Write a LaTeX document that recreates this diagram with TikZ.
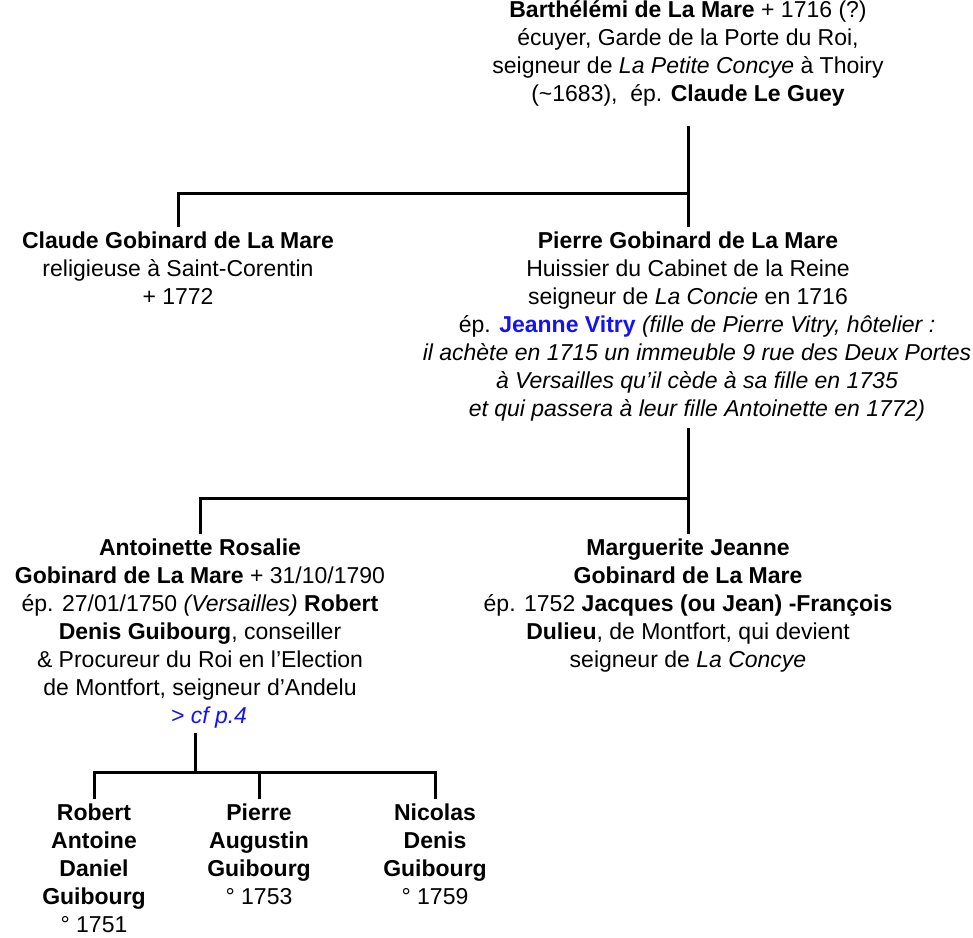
\documentclass[tikz,border=0pt]{standalone}
\usepackage{fontspec}
\setmainfont{Liberation Sans}
\definecolor{linkblue}{RGB}{20,20,240}
\newcommand\myst{\rule{0pt}{21pt}}
\tikzset{
  person/.style={anchor=north, inner sep=0pt, outer sep=0pt, align=center,
                 font=\fontsize{23}{28}\selectfont},
  conn/.style={line width=3pt, black},
}
\begin{document}
\begin{tikzpicture}[x=1pt,y=-1pt]
\useasboundingbox (0,0) rectangle (973,937);

\node[person] (top) at (688,-4) {\myst\textbf{Barthélémi de La Mare} + 1716 (?)\\
écuyer, Garde de la Porte du Roi,\\
seigneur de \textit{La Petite Concye} à Thoiry\\
(\textasciitilde1683),\ \ ép. \textbf{Claude Le Guey}};

\node[person] (claude) at (178,227) {\myst\textbf{Claude Gobinard de La Mare}\\
religieuse à Saint-Corentin\\
+ 1772};

\node[person] (pierre) at (688,227) {\myst\textbf{Pierre Gobinard de La Mare}\\
Huissier du Cabinet de la Reine\\
seigneur de \textit{La Concie} en 1716\\
\hspace*{18pt}ép. \textcolor{linkblue}{\textbf{Jeanne Vitry}} \textit{(fille de Pierre Vitry, hôtelier :}\\
\hspace*{18pt}\textit{il achète en 1715 un immeuble 9 rue des Deux Portes}\\
\hspace*{18pt}\textit{à Versailles qu’il cède à sa fille en 1735}\\
\hspace*{18pt}\textit{et qui passera à leur fille Antoinette en 1772)}};

\node[person] (ant) at (200,534) {\myst\textbf{Antoinette Rosalie}\\
\textbf{Gobinard de La Mare} + 31/10/1790\\
ép. 27/01/1750 \textit{(Versailles)} \textbf{Robert}\\
\textbf{Denis Guibourg}, conseiller\\
\& Procureur du Roi en l’Election\\
de Montfort, seigneur d’Andelu\\
\hspace*{18pt}\textcolor{linkblue}{\textit{> cf p.4}}};

\node[person] (marg) at (688,534) {\myst\textbf{Marguerite Jeanne}\\
\textbf{Gobinard de La Mare}\\
ép. 1752 \textbf{Jacques (ou Jean) -François}\\
\textbf{Dulieu}, de Montfort, qui devient\\
seigneur de \textit{La Concye}};

\node[person] (rob) at (94,799) {\myst\textbf{Robert}\\ \textbf{Antoine}\\ \textbf{Daniel}\\ \textbf{Guibourg}\\ ° 1751};
\node[person] (pa) at (259,799) {\myst\textbf{Pierre}\\ \textbf{Augustin}\\ \textbf{Guibourg}\\ ° 1753};
\node[person] (nic) at (435,799) {\myst\textbf{Nicolas}\\ \textbf{Denis}\\ \textbf{Guibourg}\\ ° 1759};

\coordinate (j1) at (688,193);
\coordinate (j2) at (688,498);
\coordinate (j3) at (195,772);

\draw[conn] (top.south) ++(0,20) -- (j1);
\draw[conn] (claude.north) |- (j1) -| (pierre.north);
\draw[conn] (pierre.south) ++(0,7) -- (j2);
\draw[conn] (ant.north) |- (j2) -| (marg.north);
\draw[conn] (ant.south -| j3) ++(0,5) -- (j3);
\draw[conn] (rob.north) |- (j3) -| (nic.north);
\draw[conn] (pa.north) -- (pa.north |- j3);
\end{tikzpicture}
\end{document}
